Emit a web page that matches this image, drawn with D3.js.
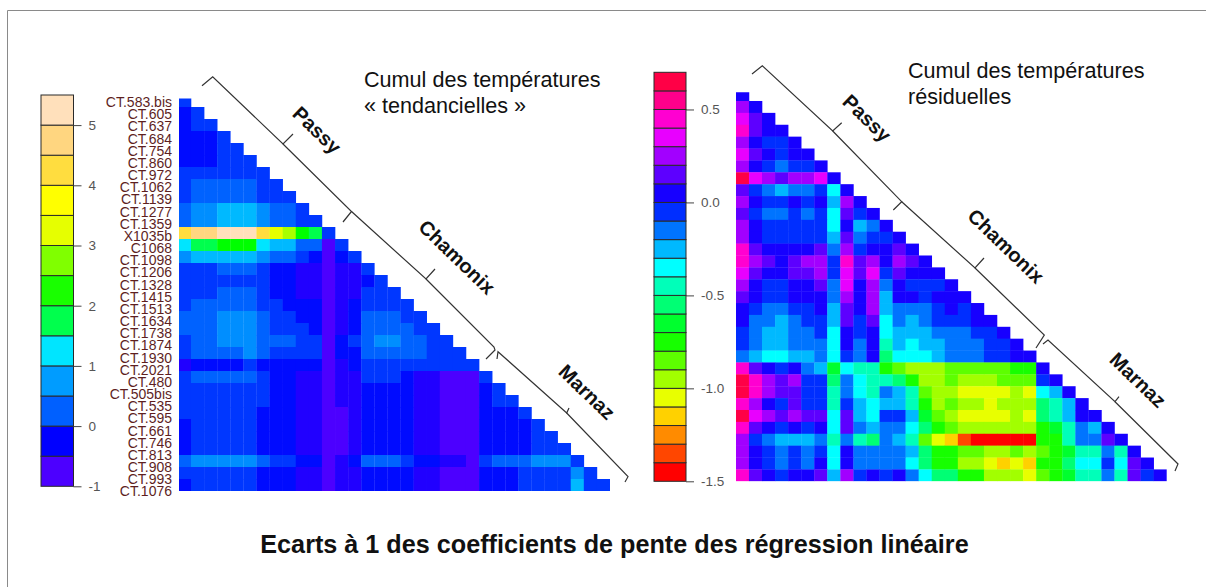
<!DOCTYPE html>
<html>
<head>
<meta charset="utf-8">
<script src="https://cdn.jsdelivr.net/npm/d3@7"></script>
<style>
	html, body { margin: 0; padding: 0; background: #fff; }
	svg { display: block; font-family: "Liberation Sans", Arial, sans-serif; }
	.station text { fill: #5e1f1f; font-size: 14px; }
	.station .domain, .station line { display: none; }
	.scale text { fill: #555; font-size: 13.5px; }
	.scale .domain { display: none; }
	.scale line { stroke: #444; }
	.bracket { fill: none; stroke: #333; stroke-width: 1.2px; }
	.group { font-size: 20px; font-weight: bold; fill: #111; text-anchor: middle; dominant-baseline: central; }
	.note { font-size: 21.6px; fill: #111; }
	.title { font-size: 25.2px; font-weight: bold; fill: #111; text-anchor: middle; }
</style>
</head>
<body>
<div id="chart"></div>
<script>
var stations = ['CT.583.bis', 'CT.605', 'CT.637', 'CT.684', 'CT.754', 'CT.860', 'CT.972', 'CT.1062', 'CT.1139', 'CT.1277', 'CT.1359', 'X1035b', 'C1068', 'CT.1098', 'CT.1206', 'CT.1328', 'CT.1415', 'CT.1513', 'CT.1634', 'CT.1738', 'CT.1874', 'CT.1930', 'CT.2021', 'CT.480', 'CT.505bis', 'CT.535', 'CT.595', 'CT.661', 'CT.746', 'CT.813', 'CT.908', 'CT.993', 'CT.1076'];

// lower triangle, one row per station
var trendValues = [
	[-.1],
	[-.4,-.1],
	[-.4,-.1,-.1],
	[-.4,-.4,-.4,-.1],
	[-.4,-.4,-.4,-.1,-.1],
	[-.4,-.4,-.4,-.1,-.1,-.1],
	[-.1,-.1,-.1,-.1,-.1,-.1,-.1],
	[-.1,.1,.1,.1,.1,.1,-.1,-.1],
	[-.1,.1,.1,.1,.1,.1,-.1,-.1,-.1],
	[.1,.4,.4,.6,.6,.6,.4,.1,.1,-.1],
	[.1,.4,.4,.6,.6,.6,.4,.1,.1,-.1,-.1],
	[4.1,4.6,4.6,5.2,5.2,5.2,4.1,3.1,2.8,2.1,1.7,-.1],
	[.9,1.7,1.7,2.1,2.1,2.1,.9,.6,.6,.1,.1,-.9,-.1],
	[.4,.6,.6,.6,.6,.6,.4,.1,.1,-.1,-.4,-.9,-.4,-.1],
	[-.1,-.1,-.1,.1,.1,.1,-.1,-.4,-.4,-.6,-.6,-.9,-.6,-.6,-.1],
	[-.1,-.1,-.1,-.1,-.1,-.1,-.1,-.4,-.4,-.6,-.6,-.9,-.6,-.6,-.4,-.1],
	[-.1,-.1,-.1,.1,.1,.1,-.1,-.4,-.4,-.6,-.6,-.9,-.6,-.6,-.1,-.1,-.1],
	[-.1,.1,.1,.1,.1,.1,-.1,-.1,-.4,-.4,-.4,-.9,-.6,-.4,-.1,-.1,-.1,-.1],
	[.1,.1,.1,.4,.4,.4,.1,-.1,-.1,-.4,-.4,-.9,-.6,-.4,.1,.1,.1,-.1,-.1],
	[.1,.1,.1,.4,.4,.4,.1,-.1,-.1,-.1,-.4,-.9,-.6,-.4,.1,.1,.1,.1,-.1,-.1],
	[-.1,.1,.1,.4,.4,.4,.1,.1,.1,-.1,-.1,-.9,-.4,-.1,.1,.4,.4,.1,.1,-.1,-.1],
	[-.1,.1,.1,.1,.1,.4,.1,-.1,-.1,-.1,-.1,-.9,-.4,-.4,.1,.1,.1,.1,.1,-.1,-.1,-.1],
	[-.6,-.4,-.4,-.4,-.4,-.1,-.4,-.4,-.4,-.4,-.4,-.9,-.6,-.4,-.1,-.1,-.1,-.1,-.1,-.1,-.1,-.1,-.1],
	[-.1,.1,.1,.1,.1,.1,-.1,-.4,-.4,-.6,-.6,-.9,-.6,-.6,-.1,-.1,-.1,-.4,-.6,-.6,-.9,-.9,-.9,-.1],
	[-.1,-.1,-.1,-.1,-.1,-.1,-.1,-.4,-.4,-.6,-.6,-.9,-.6,-.6,-.4,-.4,-.4,-.4,-.6,-.6,-.9,-.9,-.9,-.4,-.1],
	[-.1,-.1,-.1,-.1,-.1,-.1,-.1,-.4,-.4,-.6,-.6,-.9,-.6,-.6,-.4,-.4,-.4,-.4,-.6,-.6,-.9,-.9,-.9,-.4,-.1,-.1],
	[-.1,-.1,-.1,-.1,-.1,-.1,-.4,-.4,-.4,-.6,-.6,-.9,-.9,-.6,-.4,-.4,-.4,-.4,-.6,-.6,-.9,-.9,-.9,-.4,-.4,-.4,-.1],
	[-.4,-.1,-.1,-.1,-.1,-.1,-.4,-.4,-.4,-.6,-.6,-.9,-.9,-.6,-.4,-.4,-.4,-.4,-.6,-.6,-.9,-.9,-.9,-.4,-.4,-.4,-.4,-.1],
	[-.4,-.1,-.1,-.1,-.1,-.1,-.4,-.4,-.4,-.6,-.6,-.9,-.9,-.6,-.4,-.4,-.4,-.4,-.6,-.6,-.9,-.9,-.9,-.4,-.4,-.4,-.4,-.1,-.1],
	[-.4,-.1,-.1,-.1,-.1,-.1,-.4,-.4,-.4,-.6,-.6,-.9,-.9,-.6,-.4,-.4,-.4,-.4,-.6,-.6,-.9,-.9,-.9,-.4,-.4,-.4,-.4,-.1,-.1,-.1],
	[.1,.4,.4,.4,.4,.4,.1,-.1,-.1,-.4,-.4,-.9,-.6,-.4,.1,.1,.1,-.1,-.4,-.4,-.6,-.6,-.9,-.1,.1,.1,.1,.4,.4,.4,-.1],
	[-.1,-.1,-.1,-.1,-.1,-.1,-.4,-.4,-.4,-.6,-.6,-.9,-.6,-.6,-.4,-.4,-.4,-.4,-.6,-.6,-.9,-.9,-.9,-.4,-.4,-.4,-.1,-.1,-.1,-.1,.4,-.1],
	[-.4,-.1,-.1,-.1,-.1,-.1,-.4,-.4,-.4,-.6,-.6,-.9,-.6,-.6,-.4,-.4,-.4,-.4,-.6,-.6,-.9,-.9,-.9,-.4,-.4,-.4,-.1,-.1,-.1,-.1,.6,-.1,-.1]
];

var residualValues = [
	[.05],
	[.25,.05],
	[.35,.15,.05],
	[.45,.15,.05,.05],
	[.25,.05,-.05,-.05,.05],
	[.35,.15,.05,-.05,.05,.05],
	[.25,.05,-.05,-.15,-.05,-.05,.05],
	[.65,.35,.25,.15,.25,.25,.35,.05],
	[.15,-.05,-.15,-.25,-.15,-.15,-.05,-.35,.05],
	[.25,.05,-.05,-.05,.05,-.05,.05,-.25,.25,.05],
	[.15,-.05,-.15,-.15,-.05,-.15,-.05,-.35,.15,-.05,.05],
	[.25,.05,-.05,-.05,-.05,-.05,-.05,-.35,.05,-.25,-.15,.05],
	[.25,.05,-.05,-.05,-.05,-.05,-.05,-.25,.15,-.15,-.05,-.05,.05],
	[.45,.15,.05,.05,.05,.05,.15,-.15,.25,-.05,.05,.05,.15,.05],
	[.45,.25,.15,.05,.15,.25,.25,-.05,.45,.15,.25,.05,.25,.15,.05],
	[.35,.15,.05,.05,.15,.15,.25,-.05,.35,.15,.35,-.05,.15,.05,.05,.05],
	[.25,.05,-.05,-.05,.05,.05,.15,-.15,.35,.05,.25,-.15,.05,-.05,-.05,-.05,.05],
	[.15,.05,-.05,-.05,.05,.05,.05,-.15,.25,.05,.25,-.25,.05,.05,-.05,.05,.05,.05],
	[.05,-.05,-.15,-.15,-.05,-.05,.05,-.25,.15,.05,.25,-.25,-.15,-.15,-.15,-.05,.05,-.05,.05],
	[.05,-.15,-.15,-.25,-.15,-.05,-.05,-.25,.15,-.05,.15,-.35,-.15,-.25,-.15,-.05,-.05,-.05,.05,.05],
	[-.05,-.15,-.25,-.25,-.15,-.15,-.05,-.35,.05,-.05,.05,-.35,-.25,-.25,-.25,-.15,-.15,-.15,-.05,-.05,.05],
	[-.05,-.15,-.25,-.25,-.15,-.15,-.15,-.35,.05,-.15,.05,-.45,-.25,-.35,-.25,-.25,-.15,-.15,-.15,-.05,-.05,.05],
	[-.15,-.25,-.35,-.35,-.25,-.25,-.15,-.35,-.05,-.15,.05,-.55,-.35,-.35,-.35,-.25,-.15,-.15,-.15,-.05,-.05,.05,.05],
	[.45,.15,.05,-.05,.05,-.15,-.25,-.65,-.35,-.45,-.45,-.75,-.85,-.95,-.95,-.95,-.85,-.85,-.85,-.85,-.85,-.75,-.75,.05],
	[.65,.45,.25,.15,.25,-.05,-.05,-.55,-.15,-.35,-.45,-.45,-.55,-.75,-.95,-.95,-.85,-.95,-.95,-.95,-.85,-.85,-.85,-.05,.05],
	[.65,.45,.25,.15,.15,-.05,-.05,-.45,-.15,-.35,-.45,-.15,-.25,-.45,-.85,-.95,-.95,-1.05,-1.05,-1.05,-1.05,-.95,-1.05,-.35,-.25,.05],
	[.45,.25,.05,-.05,.15,-.05,-.05,-.45,-.05,-.25,-.35,-.25,-.25,-.45,-.75,-.95,-.85,-.95,-.95,-1.05,-.95,-.95,-.95,-.55,-.45,-.25,.05],
	[.65,.35,.25,.15,.25,.15,.15,-.35,.15,-.25,-.35,-.05,-.05,-.25,-.65,-.85,-.95,-1.05,-1.05,-1.05,-1.05,-.95,-1.05,-.55,-.45,-.25,.05,.05],
	[.45,.15,.05,-.05,.05,-.05,.05,-.35,.15,-.15,-.25,-.15,-.15,-.35,-.55,-.75,-.85,-.95,-.95,-.95,-.95,-.95,-.95,-.75,-.65,-.45,-.15,-.25,.05],
	[.25,-.05,-.15,-.25,-.25,-.25,-.15,-.45,-.15,-.45,-.55,-.15,-.25,-.45,-.85,-1.05,-1.15,-1.35,-1.45,-1.45,-1.45,-1.45,-1.45,-.75,-.75,-.45,-.15,-.15,.15,.05],
	[.25,.05,-.05,-.15,-.05,-.15,-.05,-.35,.05,-.15,-.15,-.15,-.15,-.25,-.55,-.75,-.75,-.85,-.85,-.95,-.95,-.85,-.95,-.85,-.75,-.65,-.45,-.45,-.15,-.45,.05],
	[.25,.05,-.05,-.15,-.05,-.15,.05,-.35,.05,-.15,-.15,-.15,-.15,-.35,-.55,-.75,-.75,-.95,-.95,-1.05,-1.15,-1.05,-1.15,-.75,-.75,-.55,-.35,-.35,-.05,-.35,.15,.05],
	[.45,.15,.05,-.05,.05,.05,.15,-.25,.25,-.05,.05,-.05,.05,-.15,-.35,-.55,-.55,-.75,-.75,-.95,-.95,-.95,-1.05,-.85,-.75,-.65,-.45,-.45,-.15,-.45,.15,-.05,.05]
];

// one colour per quarter unit, from -1 up
var trendColors = ['#4C00FF', '#2100FF', '#000BFF', '#0037FF', '#0062FF', '#008EFF', '#00B9FF', '#00E5FF', '#00E5FF', '#00FFAA', '#00FF4D', '#00FF30', '#00FF00', '#40FF00', '#80FF00', '#A8FF00', '#E6FF00', '#F2FF00', '#FFFF00', '#FFF000', '#FFDD3F', '#FFDB60', '#FFD680', '#FFDB99', '#FFE0BB', '#FFE0BB'];
var trendBreaks = d3.range(-1, 5.75, 0.25);
var trendLegendColors = ['#4C00FF', '#0000FF', '#0060FF', '#009CFF', '#00E5FF', '#00FF4D', '#19FF00', '#80FF00', '#E6FF00', '#FFFF00', '#FFDD3F', '#FFD680', '#FFE0BB'];
var trendLegendBreaks = d3.range(-1, 6, 0.5);
var trendTicks = [-1, 0, 1, 2, 3, 4, 5];

var residualColors = ['#FF0000', '#FF4600', '#FF8B00', '#FFD100', '#E8FF00', '#A2FF00', '#5DFF00', '#17FF00', '#00FF2E', '#00FF74', '#00FFB9', '#00FFFF', '#00B9FF', '#0074FF', '#002EFF', '#1700FF', '#5D00FF', '#A200FF', '#E800FF', '#FF00D1', '#FF008B', '#FF0046'];
var residualBreaks = d3.range(0, 23).map(function(i) { return (i - 15) / 10; });
var residualTicks = [-1.5, -1, -0.5, 0, 0.5];

var groupBrackets = [
	[[[202, 85.7], [212.7, 76.7], [283, 144], [293, 134]], [[283, 144], [351.5, 211.5], [343, 222]], [[351.5, 211.5], [426, 279], [435, 269]], [[426, 279], [494, 347], [495, 350], [486, 359]], [[497, 359], [498, 351.7], [566.7, 413], [569, 408]], [[566.7, 413], [628, 476.7], [625, 482]]],
	[[[752, 74], [762.3, 65.7], [832.7, 131], [841.7, 122.7]], [[832.7, 131], [901.7, 201.7], [893.3, 210]], [[901.7, 201.7], [975, 268], [984, 258]], [[975, 268], [1044.3, 335], [1036, 348]], [[1043, 344], [1048, 340], [1115, 401.7], [1119, 396.7]], [[1115, 401.7], [1178, 464], [1175, 471]]]
];
var groupLabels = [
	[{name: 'Passy', x: 317, y: 130}, {name: 'Chamonix', x: 457, y: 257}, {name: 'Marnaz', x: 587, y: 392}],
	[{name: 'Passy', x: 867, y: 118}, {name: 'Chamonix', x: 1006, y: 246}, {name: 'Marnaz', x: 1138, y: 380}]
];

var width = 1206;
var height = 587;

var svg = d3.select('#chart').append('svg')
	.attr('width', width)
	.attr('height', height);

svg.append('path')
	.attr('d', 'M7.5,' + height + 'V10.5H' + width)
	.attr('fill', 'none')
	.attr('stroke', '#8a8a8a');

function drawMatrix(id, values, color, box) {
	var x = d3.scaleBand().domain(d3.range(stations.length)).range([box.x0, box.x1]);
	var y = d3.scaleBand().domain(d3.range(stations.length)).range([box.y0, box.y1]);

	svg.append('clipPath')
		.attr('id', id)
		.append('rect')
		.attr('x', box.clipX)
		.attr('y', box.clipY)
		.attr('width', box.x1 - box.clipX)
		.attr('height', box.y1 - box.clipY);

	svg.append('g')
		.attr('clip-path', 'url(#' + id + ')')
		.selectAll('g')
		.data(values)
		.enter().append('g')
		.attr('transform', function(d, i) { return 'translate(0,' + y(i) + ')'; })
		.selectAll('rect')
		.data(function(d) { return d; })
		.enter().append('rect')
		.attr('x', function(d, i) { return x(i); })
		.attr('width', x.bandwidth() + 0.3)
		.attr('height', y.bandwidth() + 0.3)
		.attr('fill', function(d) { return color(d); });
}

function drawLegend(colors, breaks, ticks, box, format) {
	var y = d3.scaleLinear().domain(box.domain).range(box.range);
	var g = svg.append('g').attr('class', 'scale');

	g.selectAll('rect')
		.data(colors)
		.enter().append('rect')
		.attr('x', box.x)
		.attr('y', function(d, i) { return y(breaks[i + 1]); })
		.attr('width', box.width)
		.attr('height', function(d, i) { return y(breaks[i]) - y(breaks[i + 1]); })
		.attr('fill', function(d) { return d; })
		.attr('stroke', '#2a2a2a')
		.attr('stroke-width', 1);

	g.append('g')
		.attr('transform', 'translate(' + (box.x + box.width) + ',0)')
		.call(d3.axisRight(y).tickValues(ticks).tickSize(8).tickPadding(7).tickFormat(format));
}

// tick labels keep a plain hyphen, not the minus sign d3 puts in
function hyphenFormat(spec) {
	var f = d3.format(spec);
	return function(d) { return f(d).replace('\u2212', '-'); };
}

drawMatrix('clip-trend', trendValues,
	d3.scaleThreshold().domain(trendBreaks.slice(1, -1)).range(trendColors),
	{x0: 177.9, x1: 610, y0: 95, y1: 491, clipX: 179, clipY: 98.5});

drawMatrix('clip-residual', residualValues,
	d3.scaleThreshold().domain(residualBreaks.slice(1, -1)).range(residualColors),
	{x0: 735.9, x1: 1166.7, y0: 89.1, y1: 481.3, clipX: 736, clipY: 92.3});

drawLegend(trendLegendColors, trendLegendBreaks, trendTicks,
	{x: 41, width: 32.5, domain: [-1, 5.5], range: [486.3, 95]}, hyphenFormat('d'));

drawLegend(residualColors, residualBreaks, residualTicks,
	{x: 654, width: 32, domain: [-1.5, 0.7], range: [481.3, 72.3]}, hyphenFormat('.1f'));

// station names beside the left matrix
var labelY = d3.scalePoint().domain(stations).range([102, 491.5]);
svg.append('g')
	.attr('class', 'station')
	.attr('transform', 'translate(172,0)')
	.call(d3.axisLeft(labelY).tickSize(0).tickPadding(0));

groupBrackets.forEach(function(pieces) {
	svg.selectAll(null)
		.data(pieces)
		.enter().append('path')
		.attr('class', 'bracket')
		.attr('d', d3.line());
});

groupLabels.forEach(function(labels) {
	svg.selectAll(null)
		.data(labels)
		.enter().append('text')
		.attr('class', 'group')
		.attr('transform', function(d) { return 'translate(' + d.x + ',' + d.y + ') rotate(44)'; })
		.text(function(d) { return d.name; });
});

var notes = [
	{text: 'Cumul des températures', x: 364, y: 87},
	{text: '« tendancielles »', x: 364, y: 113},
	{text: 'Cumul des températures', x: 908, y: 78},
	{text: 'résiduelles', x: 908, y: 104}
];
svg.selectAll('.note')
	.data(notes)
	.enter().append('text')
	.attr('class', 'note')
	.attr('x', function(d) { return d.x; })
	.attr('y', function(d) { return d.y; })
	.text(function(d) { return d.text; });

svg.append('text')
	.attr('class', 'title')
	.attr('x', 614.5)
	.attr('y', 553)
	.text('Ecarts à 1 des coefficients de pente des régression linéaire');
</script>
</body>
</html>
